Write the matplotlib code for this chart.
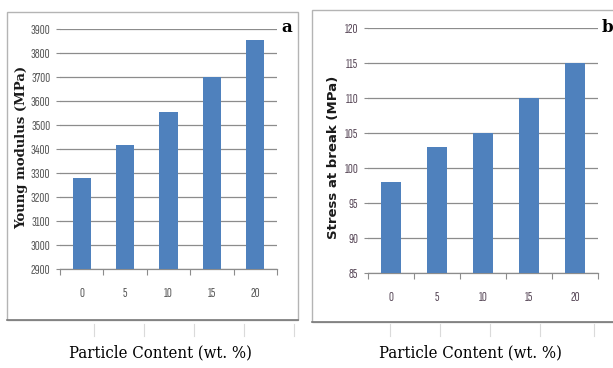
import matplotlib
matplotlib.use("Agg")
import matplotlib.pyplot as plt
from matplotlib.patches import Rectangle
from matplotlib.lines import Line2D
from matplotlib.ticker import FixedLocator

# Data
content = ["0", "5", "10", "15", "20"]
young_modulus = [3280, 3415, 3555, 3700, 3855]
stress_break = [98, 103, 105, 110, 115]
young_ticks = [2900, 3000, 3100, 3200, 3300, 3400, 3500, 3600, 3700, 3800, 3900]
stress_ticks = [85, 90, 95, 100, 105, 110, 115, 120]

W, H = 613, 368
BAR = "#4F81BD"
GRID = "#8C8C8C"
TICK_FONT = "Sofia Sans Extra Condensed"

fig = plt.figure(figsize=(W / 100, H / 100), dpi=100)
fig.patch.set_facecolor("white")


def px_box(x0, y0, x1, y1):
    """Figure-fraction rectangle from pixel corners (top-left origin)."""
    return [x0 / W, 1 - y1 / H, (x1 - x0) / W, (y1 - y0) / H]


def frame(x0, y0, x1, y1):
    fig.add_artist(Rectangle((x0 / W, 1 - y1 / H), (x1 - x0) / W, (y1 - y0) / H,
                             transform=fig.transFigure, fill=False,
                             edgecolor="#B4B4B4", linewidth=1.0))
    fig.add_artist(Line2D([x0 / W, x1 / W], [1 - y1 / H, 1 - y1 / H],
                          transform=fig.transFigure, color="#7A7A7A", linewidth=1.2))


def style_axes(ax, values, ticks, tick_color, tick_size):
    n = len(values)
    ax.bar(range(n), values, width=0.42, color=BAR, zorder=3)
    ax.set_xlim(-0.5, n - 0.5)
    ax.set_ylim(ticks[0], ticks[-1])
    ax.set_yticks(ticks)
    ax.set_xticks(range(n))
    ax.set_xticklabels(content)
    ax.xaxis.set_minor_locator(FixedLocator([i - 0.5 for i in range(n + 1)]))
    ax.tick_params(axis="x", which="major", length=0, pad=13,
                   labelsize=tick_size, labelcolor=tick_color)
    ax.tick_params(axis="x", which="minor", length=4, color=GRID, width=0.8)
    ax.tick_params(axis="y", length=3, color=GRID, width=0.8, pad=4,
                   labelsize=tick_size, labelcolor=tick_color)
    for lab in ax.get_xticklabels() + ax.get_yticklabels():
        lab.set_fontfamily(TICK_FONT)
    ax.grid(axis="y", color=GRID, linewidth=0.9, zorder=0)
    for side in ("top", "right", "left"):
        ax.spines[side].set_visible(False)
    ax.spines["bottom"].set_color(GRID)
    ax.spines["bottom"].set_linewidth(0.9)
    ax.set_facecolor("white")


# Panel frames
frame(7, 12, 298, 320)
frame(312, 10, 640, 322)

# Faint rules below the frames
for xs in ([94, 144, 194, 244, 294], [390, 440, 490, 540, 594]):
    for x in xs:
        fig.add_artist(Line2D([x / W, x / W], [1 - 336 / H, 1 - 324 / H],
                              transform=fig.transFigure, color="#DADADA", linewidth=0.8))

# Panel a: Young modulus
ax1 = fig.add_axes(px_box(60, 29, 277, 269))
style_axes(ax1, young_modulus, young_ticks, "#595959", 10)
fig.text(22 / W, 1 - 147 / H, "Young modulus (MPa)", rotation=90,
         ha="center", va="center", family="DejaVu Serif", weight="bold",
         fontsize=9.5, color="#1A1A1A")
fig.text(287 / W, 1 - 28 / H, "a", ha="center", va="center",
         family="DejaVu Serif", weight="bold", fontsize=12, color="black")

# Panel b: stress at break
ax2 = fig.add_axes(px_box(368, 28, 598, 273))
style_axes(ax2, stress_break, stress_ticks, "#5A4A5A", 10)
fig.text(334 / W, 1 - 157 / H, "Stress at break (MPa)", rotation=90,
         ha="center", va="center", family="DejaVu Sans", weight="bold",
         fontsize=9.5, color="#1A1A1A")
fig.text(607 / W, 1 - 28 / H, "b", ha="center", va="center",
         family="DejaVu Serif", weight="bold", fontsize=12, color="black")

# Shared x titles under each panel
for xc in (160, 470):
    fig.text(xc / W, 1 - 353 / H, "Particle Content (wt. %)", ha="center",
             va="center", family="DejaVu Serif", stretch="condensed",
             fontsize=12, color="black")

fig.savefig("out.png", dpi=100, facecolor="white")
